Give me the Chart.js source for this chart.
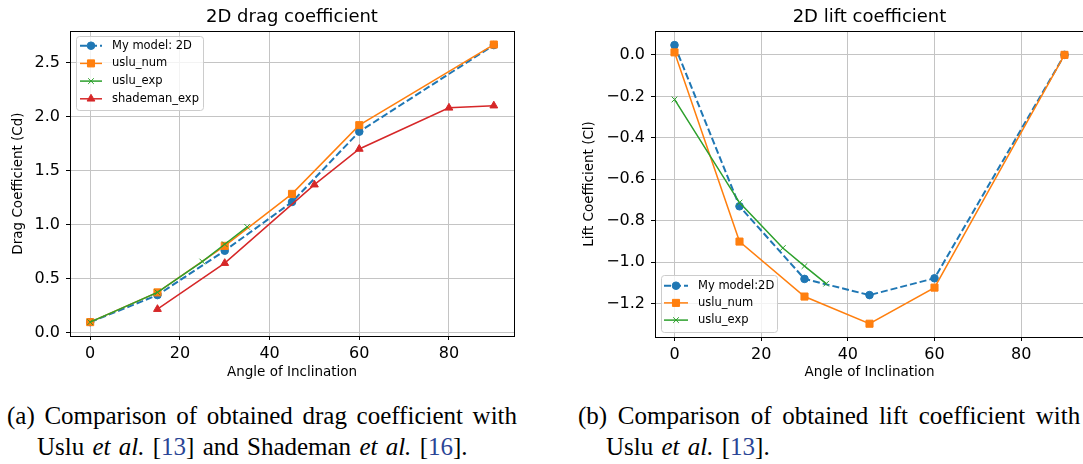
<!DOCTYPE html>
<html>
<head>
<meta charset="utf-8">
<script src="https://cdn.jsdelivr.net/npm/chart.js@4.4.1/dist/chart.umd.min.js"></script>
<style>
  html, body { margin: 0; padding: 0; background: #fff; width: 1083px; height: 464px; overflow: hidden; position: relative; }
  .panel { position: absolute; top: 0; width: 540px; height: 390px; }
  #dragWrap { left: 0; }
  #liftWrap { left: 560px; }
  .cap { position: absolute; font-family: "Liberation Serif", "Times New Roman", serif; font-size: 25px; line-height: 1; white-space: nowrap; color: #000; }
  .cap .ref { color: #2a4596; }
</style>
</head>
<body>
<div class="panel" id="dragWrap"><canvas id="dragChart" width="540" height="390"></canvas></div>
<div class="panel" id="liftWrap"><canvas id="liftChart" width="540" height="390"></canvas></div>

<div class="cap" style="left:7px; top:403px; word-spacing:3.4px">(a) Comparison of obtained drag coefficient with</div>
<div class="cap" style="left:37px; top:434px; word-spacing:2px">Uslu <i>et al.</i> [<span class="ref">13</span>] and Shademan <i>et al.</i> [<span class="ref">16</span>].</div>
<div class="cap" style="left:578px; top:403px; word-spacing:4.4px">(b) Comparison of obtained lift coefficient with</div>
<div class="cap" style="left:606px; top:434px; word-spacing:2px">Uslu <i>et al.</i> [<span class="ref">13</span>].</div>

<script>
// angles (deg)
const angles = [0, 15, 30, 45, 60, 90];
const usluExpAngles = [0, 15, 25, 30, 35];
const shademanAngles = [15, 30, 50, 60, 80, 90];

// drag coefficient
const dragModel = [0.10, 0.35, 0.76, 1.21, 1.86, 2.66];
const dragUsluNum = [0.10, 0.375, 0.805, 1.285, 1.92, 2.665];
const dragUsluExp = [0.10, 0.375, 0.66, 0.82, 0.98];
const dragShademan = [0.22, 0.645, 1.37, 1.70, 2.08, 2.10];

// lift coefficient
const liftModel = [0.047, -0.73, -1.08, -1.158, -1.077, 0.0];
const liftUsluNum = [0.012, -0.90, -1.165, -1.296, -1.122, 0.0];
const liftUsluExp = [-0.215, -0.712, -0.931, -1.018, -1.103];

// ticks
const xTicks = [0, 20, 40, 60, 80];
const dragTicks = [0, 0.5, 1.0, 1.5, 2.0, 2.5];
const liftTicks = [0, -0.2, -0.4, -0.6, -0.8, -1.0, -1.2];

const BLUE = "#1f77b4", ORANGE = "#ff7f0e", GREEN = "#2ca02c", RED = "#d62728";

Chart.defaults.font.family = "'DejaVu Sans', sans-serif";
Chart.defaults.color = "#000";

const pts = (xs, ys) => xs.map((x, i) => ({ x: x, y: ys[i] }));

function series(label, xs, ys, color, style, radius, extra) {
    return Object.assign({
        label: label,
        data: pts(xs, ys),
        borderColor: color,
        backgroundColor: color,
        pointBackgroundColor: color,
        pointBorderColor: color,
        pointBorderWidth: 1,
        borderWidth: 1.5,
        pointStyle: style,
        pointRadius: radius,
        pointHoverRadius: radius,
        tension: 0,
        fill: false,
    }, extra || {});
}

function drawMarker(ctx, style, x, y, r, color) {
    ctx.fillStyle = color;
    ctx.strokeStyle = color;
    ctx.lineWidth = 1;
    if (Chart.helpers && Chart.helpers.drawPoint) {
        Chart.helpers.drawPoint(ctx, { pointStyle: style, radius: r, borderWidth: 1, rotation: 0 }, x, y);
        return;
    }
    ctx.beginPath();
    ctx.arc(x, y, r, 0, Math.PI * 2);
    ctx.fill();
}

// matplotlib-like frame (all 4 spines) + legend box
const mplFrame = {
    id: "mplFrame",
    afterDraw(chart, args, o) {
        const { ctx, chartArea: a } = chart;
        ctx.save();
        ctx.strokeStyle = "#000";
        ctx.lineWidth = 1;
        ctx.setLineDash([]);
        ctx.strokeRect(Math.round(a.left) + 0.5, Math.round(a.top) + 0.5,
            Math.round(a.right - a.left), Math.round(a.bottom - a.top));

        const L = o.legend;
        if (L) {
            ctx.beginPath();
            ctx.roundRect(L.x + 0.5, L.y + 0.5, L.w, L.h, 3);
            ctx.fillStyle = "rgba(255,255,255,0.8)";
            ctx.fill();
            ctx.strokeStyle = "#cccccc";
            ctx.stroke();
            ctx.font = L.font;
            ctx.textBaseline = "middle";
            chart.data.datasets.forEach((ds, i) => {
                const y = L.row0 + i * L.dy;
                ctx.strokeStyle = ds.borderColor;
                ctx.lineWidth = ds.borderWidth;
                ctx.setLineDash(ds.borderDash || []);
                ctx.beginPath();
                ctx.moveTo(L.line0, y);
                ctx.lineTo(L.line1, y);
                ctx.stroke();
                ctx.setLineDash([]);
                drawMarker(ctx, ds.pointStyle, (L.line0 + L.line1) / 2, y, ds.pointRadius, ds.borderColor);
                ctx.fillStyle = "#000";
                ctx.fillText(ds.label, L.textX, y);
            });
        }
        ctx.restore();
    },
};

const fmt = (v) => v.toFixed(1).replace("-", "\u2212");

function axes(yTicks, yMin, yMax, yLabel, yWidth, xHeight, yTitlePad) {
    const grid = { color: "#c4c4c4", lineWidth: 1, tickColor: "#000", tickLength: 4, tickWidth: 1 };
    return {
        x: {
            type: "linear",
            min: -4.5,
            max: 94.5,
            border: { display: false },
            grid: grid,
            afterBuildTicks: (s) => { s.ticks = xTicks.map((v) => ({ value: v })); },
            afterFit: (s) => { s.height = xHeight; },
            ticks: { font: { size: 16 }, padding: 4, maxRotation: 0, callback: (v) => String(v) },
            title: { display: true, text: "Angle of Inclination", font: { size: 13.5 }, padding: { top: 0, bottom: 9 } },
        },
        y: {
            type: "linear",
            min: yMin,
            max: yMax,
            border: { display: false },
            grid: grid,
            afterBuildTicks: (s) => { s.ticks = yTicks.map((v) => ({ value: v })); },
            afterFit: (s) => { s.width = yWidth; },
            ticks: { font: { size: 16 }, padding: 6, callback: (v) => fmt(v) },
            title: { display: true, text: yLabel, font: { size: 13.5 }, padding: { top: yTitlePad, bottom: 0 } },
        },
    };
}

function titleOpts(text) {
    return {
        display: true,
        text: text,
        fullSize: false,
        font: { size: 18, weight: "normal" },
        padding: { top: 7, bottom: 2.4 },
    };
}

new Chart(document.getElementById("dragChart"), {
    type: "line",
    data: {
        datasets: [
            series("My model: 2D", angles, dragModel, BLUE, "circle", 3.8, { borderWidth: 2, borderDash: [7, 3], order: 4 }),
            series("uslu_num", angles, dragUsluNum, ORANGE, "rect", 5, { order: 3 }),
            series("uslu_exp", usluExpAngles, dragUsluExp, GREEN, "crossRot", 4, { order: 2 }),
            series("shademan_exp", shademanAngles, dragShademan, RED, "triangle", 4.5, { order: 1 }),
        ],
    },
    options: {
        responsive: false,
        animation: false,
        devicePixelRatio: 1,
        layout: { padding: { top: 0, left: 0, right: 26, bottom: 0 } },
        scales: axes(dragTicks, -0.028, 2.79, "Drag Coefficient (Cd)", 70, 54, 10),
        plugins: {
            legend: { display: false },
            tooltip: { enabled: false },
            title: titleOpts("2D drag coefficient"),
            mplFrame: {
                legend: { x: 76, y: 36, w: 127, h: 74, row0: 45.7, dy: 17.7, line0: 80, line1: 102, textX: 112, font: "11.5px 'DejaVu Sans'" },
            },
        },
    },
    plugins: [mplFrame],
});

new Chart(document.getElementById("liftChart"), {
    type: "line",
    data: {
        datasets: [
            series("My model:2D", angles, liftModel, BLUE, "circle", 3.8, { borderWidth: 2, borderDash: [7, 3], order: 3 }),
            series("uslu_num", angles, liftUsluNum, ORANGE, "rect", 5, { order: 2 }),
            series("uslu_exp", usluExpAngles, liftUsluExp, GREEN, "crossRot", 4, { order: 1 }),
        ],
    },
    options: {
        responsive: false,
        animation: false,
        devicePixelRatio: 1,
        layout: { padding: { top: 0, left: 0, right: 16, bottom: 0 } },
        scales: axes(liftTicks, -1.36, 0.115, "Lift Coefficient (Cl)", 95, 53, 21),
        plugins: {
            legend: { display: false },
            tooltip: { enabled: false },
            title: titleOpts("2D lift coefficient"),
            mplFrame: {
                legend: { x: 101, y: 275, w: 116, h: 57, row0: 285.7, dy: 17.2, line0: 104, line1: 128, textX: 138, font: "11.5px 'DejaVu Sans'" },
            },
        },
    },
    plugins: [mplFrame],
});
</script>
</body>
</html>
